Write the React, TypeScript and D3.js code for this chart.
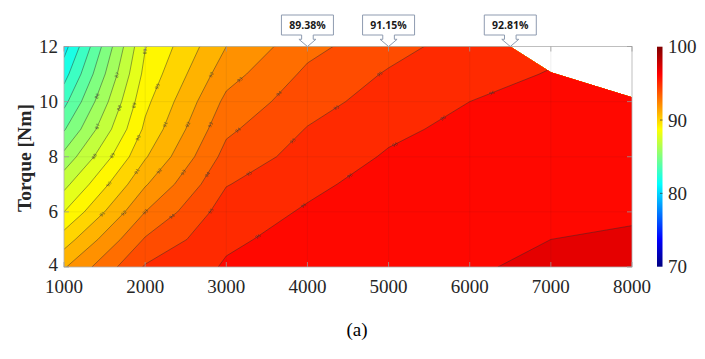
import React, { useRef, useEffect } from 'react';
import * as d3 from 'd3';

// motor speed [rpm] and torque [Nm] grid of the efficiency map
const speeds = [1000, 2000, 3000, 4000, 5000, 6000, 7000, 8000];
const torques = [4, 5, 6, 7, 8, 9, 10, 11, 12];

// efficiency [%] for each torque row, along speeds
const eff4 = [91.9, 95.1, 96.1, 96.45, 96.8, 96.92, 97.15, 97.2];
const eff5 = [90.5, 94.1, 95.85, 96.3, 96.7, 96.82, 97.0, 97.05];
const eff6 = [89.0, 93.0, 95.5, 96.1, 96.55, 96.72, 96.9, 96.95];
const eff7 = [87.7, 91.9, 94.95, 95.8, 96.35, 96.6, 96.78, 96.85];
const eff8 = [86.3, 90.9, 94.35, 95.4, 96.1, 96.45, 96.65, 96.75];
const eff9 = [84.9, 90.2, 93.8, 95.05, 95.8, 96.25, 96.5, 96.65];
const eff10 = [83.7, 89.75, 93.25, 94.6, 95.45, 96.0, 96.3, 96.55];
const eff11 = [82.6, 89.3, 92.6, 94.2, 95.1, 95.7, 96.05, 96.4];
const eff12 = [81.6, 88.95, 92.0, 93.7, 94.65, 95.45, 95.8, 96.2];
const effRows = [eff4, eff5, eff6, eff7, eff8, eff9, eff10, eff11, eff12];

// contour levels
const levels = [80, 81, 82, 83, 84, 85, 86, 87, 88, 89, 90, 91, 92, 93, 94, 95, 96, 97, 98];

// max torque envelope (outside of it is left white)
const envSpeed = [1000, 6500, 7000, 8000];
const envTorque = [12, 12, 11.07, 10.16];

// callouts on the top edge
const calloutSpeed = [4000, 5000, 6500];
const calloutText = ['89.38%', '91.15%', '92.81%'];

const xTicks = [1000, 2000, 3000, 4000, 5000, 6000, 7000, 8000];
const yTicks = [4, 6, 8, 10, 12];
const cbTicks = [70, 80, 90, 100];

// matlab jet colormap
const jet = (t: number) => {
  const c = (v: number) => Math.round(255 * Math.max(0, Math.min(1, v)));
  return d3.rgb(c(1.5 - Math.abs(4 * t - 3)), c(1.5 - Math.abs(4 * t - 2)), c(1.5 - Math.abs(4 * t - 1))).formatHex();
};

const App = () => {
  const chart = useRef(null);

  useEffect(() => {
    d3.select(chart.current).selectAll('*').remove();

    const W = 705;
    const H = 359;
    const serif = '"Liberation Serif", "Times New Roman", serif';

    const svg = d3
      .select(chart.current)
      .append('svg')
      .attr('width', W)
      .attr('height', H)
      .style('position', 'absolute')
      .style('left', 0)
      .style('top', 0)
      .style('background', '#fff');

    const x = d3.scaleLinear().domain([1000, 8000]).range([64, 632]);
    const y = d3.scaleLinear().domain([4, 12]).range([267, 46.5]);
    const color = d3.scaleLinear().domain([70, 100]).range([0, 1]);

    // grid index -> data value
    const ix = d3.scaleLinear().domain([0, speeds.length - 1]).range([speeds[0], speeds[speeds.length - 1]]);
    const iy = d3.scaleLinear().domain([0, torques.length - 1]).range([torques[0], torques[torques.length - 1]]);
    const toPx = (p) => [x(ix(p[0] - 0.5)), y(iy(p[1] - 0.5))];

    const values = effRows.flat();
    const bands = d3.contours().size([speeds.length, torques.length]).thresholds(levels)(values);

    const proj = d3.geoTransform({
      point: function (px, py) {
        const p = toPx([px, py]);
        this.stream.point(p[0], p[1]);
      },
    });
    const path = d3.geoPath(proj);

    // clip to the operating envelope
    const env = envSpeed.map((s, i) => [x(s), y(envTorque[i])]);
    env.push([x(8000), y(4)], [x(1000), y(4)]);
    svg
      .append('clipPath')
      .attr('id', 'env')
      .append('path')
      .attr('d', d3.line()(env) + 'Z');

    const g = svg.append('g').attr('clip-path', 'url(#env)');

    g.selectAll('path.band')
      .data(bands)
      .enter()
      .append('path')
      .attr('class', 'band')
      .attr('d', (d) => path(d))
      .attr('fill', (d) => jet(color(d.value)))
      .attr('stroke', 'none');

    g.selectAll('path.iso')
      .data(bands)
      .enter()
      .append('path')
      .attr('class', 'iso')
      .attr('d', (d) => path(d))
      .attr('fill', 'none')
      .attr('stroke', '#2b2b2b')
      .attr('stroke-opacity', 0.75)
      .attr('stroke-width', 0.6);

    // small inline contour labels, spaced along each line
    const inside = (p) =>
      p[0] > x(1000) + 3 && p[0] < x(8000) - 3 && p[1] > y(12) + 3 && p[1] < y(4) - 3 && d3.polygonContains(env, p);
    const lab = g.append('g');
    bands.forEach((b) => {
      b.coordinates.forEach((poly) => {
        poly.forEach((ring) => {
          const pts = ring.map(toPx);
          let run = 18;
          for (let i = 1; i < pts.length; i++) {
            const a = pts[i - 1];
            const c = pts[i];
            if (!inside(a) || !inside(c)) {
              run = 18;
              continue;
            }
            const len = Math.hypot(c[0] - a[0], c[1] - a[1]);
            let pos = 0;
            while (run + (len - pos) >= 55) {
              pos += 55 - run;
              run = 0;
              const f = pos / len;
              const px = a[0] + (c[0] - a[0]) * f;
              const py = a[1] + (c[1] - a[1]) * f;
              let ang = (Math.atan2(c[1] - a[1], c[0] - a[0]) * 180) / Math.PI;
              if (ang > 90) ang -= 180;
              if (ang < -90) ang += 180;
              lab
                .append('text')
                .attr('transform', `translate(${px},${py}) rotate(${ang})`)
                .attr('text-anchor', 'middle')
                .attr('dy', '0.35em')
                .style('font-family', '"DejaVu Sans", sans-serif')
                .style('font-size', '4.5px')
                .attr('fill', '#3a3a3a')
                .attr('fill-opacity', 0.85)
                .text(b.value);
            }
            run += len - pos;
          }
        });
      });
    });

    // grid
    const grid = svg.append('g').attr('stroke', '#262626').attr('stroke-opacity', 0.12).attr('stroke-width', 0.6);
    xTicks.slice(1, -1).forEach((t) => {
      grid.append('line').attr('x1', x(t)).attr('x2', x(t)).attr('y1', y(4)).attr('y2', y(12));
    });
    yTicks.slice(1, -1).forEach((t) => {
      grid.append('line').attr('x1', x(1000)).attr('x2', x(8000)).attr('y1', y(t)).attr('y2', y(t));
    });

    // axes box and ticks
    svg
      .append('rect')
      .attr('x', x(1000))
      .attr('y', y(12))
      .attr('width', x(8000) - x(1000))
      .attr('height', y(4) - y(12))
      .attr('fill', 'none')
      .attr('stroke', '#b0b0b0')
      .attr('stroke-width', 0.8);

    const ticks = svg.append('g').attr('stroke', '#9a9a9a').attr('stroke-width', 0.8);
    xTicks.forEach((t) => {
      ticks.append('line').attr('x1', x(t)).attr('x2', x(t)).attr('y1', y(4)).attr('y2', y(4) - 5);
      ticks.append('line').attr('x1', x(t)).attr('x2', x(t)).attr('y1', y(12)).attr('y2', y(12) + 5);
    });
    yTicks.forEach((t) => {
      ticks.append('line').attr('x1', x(1000)).attr('x2', x(1000) + 5).attr('y1', y(t)).attr('y2', y(t));
      ticks.append('line').attr('x1', x(8000)).attr('x2', x(8000) - 5).attr('y1', y(t)).attr('y2', y(t));
    });

    svg
      .append('g')
      .selectAll('text')
      .data(xTicks)
      .enter()
      .append('text')
      .attr('x', (d) => x(d))
      .attr('y', 292.5)
      .attr('text-anchor', 'middle')
      .style('font-family', serif)
      .style('font-size', '19px')
      .attr('fill', '#262626')
      .text((d) => d);

    svg
      .append('g')
      .selectAll('text')
      .data(yTicks)
      .enter()
      .append('text')
      .attr('x', 58)
      .attr('y', (d) => y(d) + (d === 4 ? 3.5 : 6.3))
      .attr('text-anchor', 'end')
      .style('font-family', serif)
      .style('font-size', '19px')
      .attr('fill', '#262626')
      .text((d) => d);

    svg
      .append('text')
      .attr('transform', 'translate(31,158) rotate(-90)')
      .attr('text-anchor', 'middle')
      .style('font-family', serif)
      .style('font-size', '19.5px')
      .style('font-weight', 'bold')
      .attr('fill', '#262626')
      .text('Torque [Nm]');

    svg
      .append('text')
      .attr('x', 357)
      .attr('y', 336)
      .attr('text-anchor', 'middle')
      .style('font-family', serif)
      .style('font-size', '19px')
      .attr('fill', '#000')
      .text('(a)');

    // colorbar
    const cb = d3.scaleLinear().domain([70, 100]).range([266.7, 46.7]);
    const grad = svg
      .append('defs')
      .append('linearGradient')
      .attr('id', 'jet')
      .attr('x1', 0)
      .attr('y1', 1)
      .attr('x2', 0)
      .attr('y2', 0);
    d3.range(0, 1.0001, 0.025).forEach((t) => {
      grad.append('stop').attr('offset', t).attr('stop-color', jet(t));
    });
    svg
      .append('rect')
      .attr('x', 657)
      .attr('y', cb(100))
      .attr('width', 5.5)
      .attr('height', cb(70) - cb(100))
      .attr('fill', 'url(#jet)');
    cbTicks.slice(1, -1).forEach((t) => {
      svg
        .append('line')
        .attr('x1', 660)
        .attr('x2', 662.5)
        .attr('y1', cb(t))
        .attr('y2', cb(t))
        .attr('stroke', '#333')
        .attr('stroke-width', 0.7);
    });
    svg
      .append('g')
      .selectAll('text')
      .data(cbTicks)
      .enter()
      .append('text')
      .attr('x', 668)
      .attr('y', (d) => cb(d) + 6.5)
      .style('font-family', serif)
      .style('font-size', '19px')
      .attr('fill', '#262626')
      .text((d) => d);

    // callouts
    calloutSpeed.forEach((s, i) => {
      const cx = x(s);
      const tip = y(12);
      const d = [
        [cx - 26, 15],
        [cx + 26, 15],
        [cx + 26, 35],
        [cx + 5.8, 35],
        [cx + 5.8, 39.3],
        [cx + 8.5, 39.3],
        [cx, tip],
        [cx - 8.5, 39.3],
        [cx - 5.8, 39.3],
        [cx - 5.8, 35],
        [cx - 26, 35],
      ];
      svg
        .append('path')
        .attr('d', d3.line()(d) + 'Z')
        .attr('fill', '#fff')
        .attr('stroke', '#8e9bb0')
        .attr('stroke-width', 1);
      svg
        .append('text')
        .attr('x', cx)
        .attr('y', 28.5)
        .attr('text-anchor', 'middle')
        .style('font-family', '"Open Sans", "Noto Sans", sans-serif')
        .style('font-size', '10.5px')
        .style('font-weight', 'bold')
        .attr('fill', '#1a1a1a')
        .text(calloutText[i]);
    });
  }, []);

  return <div ref={chart}></div>;
};

export default App;
